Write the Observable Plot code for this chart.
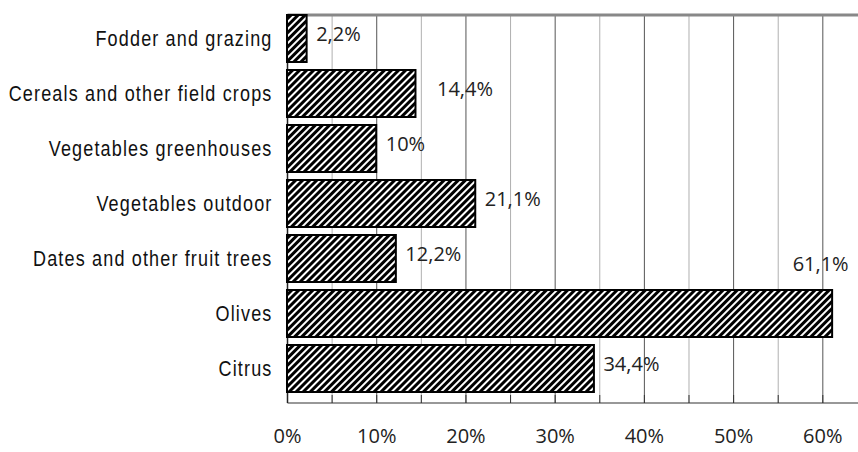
<!DOCTYPE html>
<html>
<head>
<meta charset="utf-8">
<script src="https://cdn.jsdelivr.net/npm/d3@7"></script>
<script src="https://cdn.jsdelivr.net/npm/@observablehq/plot@0.6"></script>
<style>
  html, body { margin: 0; padding: 0; background: #fff; }
</style>
</head>
<body>
<div id="chart"></div>
<script>
// ---- data ----
const categories = [
  "Fodder and grazing",
  "Cereals and other field crops",
  "Vegetables greenhouses",
  "Vegetables outdoor",
  "Dates and other fruit trees",
  "Olives",
  "Citrus"
];
const values = [2.2, 14.4, 10, 21.1, 12.2, 61.1, 34.4];
const valueLabels = ["2,2%", "14,4%", "10%", "21,1%", "12,2%", "61,1%", "34,4%"];
const xTickValues = [0, 10, 20, 30, 40, 50, 60];
const gridMajor = [10, 20, 30, 40, 50, 60];
const gridMinor = [5, 15, 25, 35, 45, 55];
const gridAll = [5, 10, 15, 20, 25, 30, 35, 40, 45, 50, 55, 60];

const rows = categories.map((c, i) => ({cat: c, value: values[i], label: valueLabels[i]}));

const labelFont = "'Open Sans', 'DejaVu Sans', sans-serif";
const catFont = "'Liberation Sans', Arial, sans-serif";

const chart = Plot.plot({
  width: 858,
  height: 452,
  marginLeft: 287,
  marginRight: 0,
  marginTop: 14,
  marginBottom: 49,
  style: {background: "#fff", color: "#000", overflow: "visible"},
  x: {domain: [0, 64], axis: null, label: null},
  y: {domain: categories, range: [6, 401], padding: 0.14, axis: null, label: null},
  marks: [
    Plot.ruleX(gridMinor, {stroke: "#b0b0b0", strokeWidth: 1}),
    Plot.ruleX(gridMajor, {stroke: "#555", strokeWidth: 1}),
    Plot.ruleX(gridAll, {stroke: "#333", strokeWidth: 1, insetTop: 381}),
    Plot.frame({fill: "#888", stroke: "none", insetBottom: 387, insetTop: -1}),
    Plot.frame({fill: "#333", stroke: "none", insetTop: 388}),
    Plot.ruleX([0], {stroke: "#222", strokeWidth: 1.5}),
    Plot.barX(rows, {x: "value", y: "cat", fill: "url(#hatch)", stroke: "#000", strokeWidth: 2}),
    Plot.axisY({
      label: null,
      tickSize: 0, tickPadding: 15,
      fontSize: 22, fontFamily: catFont, fill: "#111"
    }),
    Plot.axisX({
      label: null,
      ticks: xTickValues, tickFormat: d => d + "%",
      tickSize: 0, tickPadding: 25,
      fontSize: 20, fontFamily: labelFont, fill: "#222"
    }),
    Plot.text(rows, {
      filter: (d, i) => i !== 1 && i !== 5,
      x: "value", y: "cat", text: "label",
      textAnchor: "start", dx: 9, dy: -4,
      fontSize: 20, fontFamily: labelFont, fill: "#222"
    }),
    Plot.text(rows, {
      filter: (d, i) => i === 1,
      x: "value", y: "cat", text: "label",
      textAnchor: "start", dx: 21, dy: -4,
      fontSize: 20, fontFamily: labelFont, fill: "#222"
    }),
    Plot.text(rows, {
      filter: (d, i) => i === 5,
      x: "value", y: "cat", text: "label",
      textAnchor: "middle", dx: -12, dy: -49,
      fontSize: 20, fontFamily: labelFont, fill: "#222"
    })
  ]
});

// hatch pattern definition
const svg = d3.select(chart);
const defs = svg.insert("defs", ":first-child");
const pat = defs.append("pattern")
  .attr("id", "hatch")
  .attr("patternUnits", "userSpaceOnUse")
  .attr("width", 5).attr("height", 5)
  .attr("patternTransform", "rotate(45)");
pat.append("rect").attr("width", 5).attr("height", 5).attr("fill", "#fff");
pat.append("rect").attr("width", 3).attr("height", 5).attr("fill", "#000");

// narrow (condensed) look for category labels: horizontal scale only
svg.selectAll("g[aria-label='y-axis tick label'] text").each(function() {
  const el = this;
  const t = el.getAttribute("transform") || "";
  el.setAttribute("transform", `${t} scale(0.82,1)`);
  el.style.letterSpacing = "1.4px";
});

document.getElementById("chart").appendChild(chart);
</script>
</body>
</html>
